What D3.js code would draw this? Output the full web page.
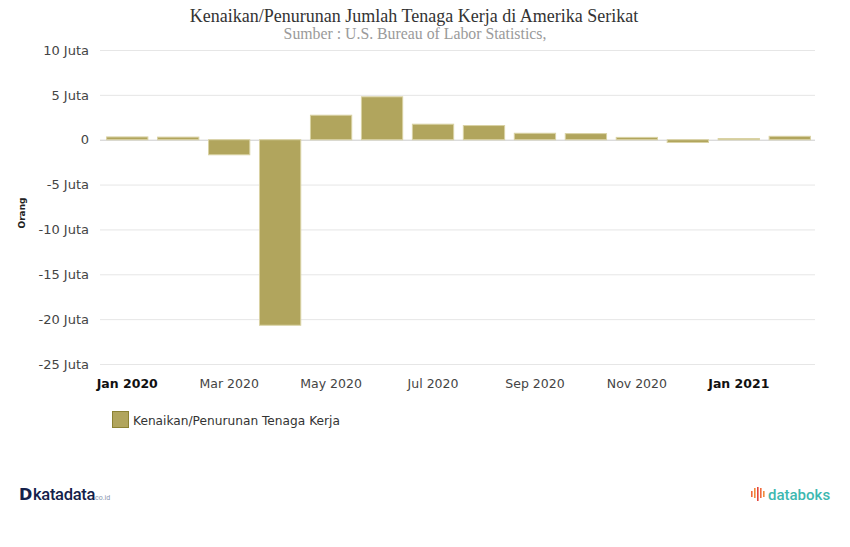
<!DOCTYPE html>
<html><head><meta charset="utf-8">
<script src="https://cdn.jsdelivr.net/npm/d3@7"></script>
<style>
body{margin:0;background:#fff;}
svg{display:block;}
</style></head>
<body><svg id="chart" width="850" height="547"></svg>
<script>
const months = ["Jan 2020","Feb 2020","Mar 2020","Apr 2020","May 2020","Jun 2020","Jul 2020","Aug 2020","Sep 2020","Oct 2020","Nov 2020","Dec 2020","Jan 2021","Feb 2021"];
const values = [0.31,0.29,-1.68,-20.68,2.73,4.78,1.73,1.58,0.72,0.68,0.26,-0.31,0.13,0.38]; // juta orang
const yTicks = [10,5,0,-5,-10,-15,-20,-25];
const xLabelIdx = [0,2,4,6,8,10,12];
const boldLabels = ["Jan 2020","Jan 2021"];
const title = "Kenaikan/Penurunan Jumlah Tenaga Kerja di Amerika Serikat";
const subtitle = "Sumber : U.S. Bureau of Labor Statistics,";
const seriesName = "Kenaikan/Penurunan Tenaga Kerja";

(function(){
const svg = d3.select("#chart");
const pL = 102, pR = 815, pT = 50, pB = 364;
const x = d3.scaleBand().domain(months).range([pL, pR]).paddingInner(0.19).paddingOuter(0.09);
const y = d3.scaleLinear().domain([-25, 10]).range([pB, pT]);
const fmt = v => v === 0 ? "0" : v + " Juta";

// title
svg.append("text").attr("x", 414).attr("y", 22).attr("text-anchor","middle")
  .attr("font-family","'Liberation Serif', 'Times New Roman', serif").attr("font-size",18).attr("fill","#333").text(title);
svg.append("text").attr("x", 415).attr("y", 39).attr("text-anchor","middle")
  .attr("font-family","'Liberation Serif', 'Times New Roman', serif").attr("font-size",15.8).attr("fill","#9a9a9a").text(subtitle);

// grid + y axis
const yAxis = d3.axisLeft(y).tickValues(yTicks).tickFormat(fmt).tickSize(-(pR - pL + 2)).tickPadding(11);
const gy = svg.append("g").attr("transform", `translate(${pL-2},0)`).call(yAxis);
gy.select(".domain").remove();
gy.selectAll(".tick line").attr("stroke", d => d === 0 ? "#cccccc" : "#e6e6e6").attr("stroke-width", 1);
gy.selectAll(".tick text").attr("font-family","'DejaVu Sans', Verdana, sans-serif").attr("font-size",13).attr("fill","#444");

svg.append("text").attr("transform","translate(25,213) rotate(-90)").attr("text-anchor","middle")
  .attr("font-family","'DejaVu Sans', Verdana, sans-serif").attr("font-size",9).attr("font-weight","bold").attr("fill","#222").text("Orang");

// bars
svg.append("g").selectAll("rect").data(values).join("rect")
  .attr("x", (d,i) => x(months[i]))
  .attr("width", x.bandwidth())
  .attr("y", d => y(Math.max(0, d)))
  .attr("height", d => Math.abs(y(d) - y(0)))
  .attr("fill", "#b1a55d")
  .attr("stroke", "#d9d2a4").attr("stroke-width", 1);

// x axis labels
const xAxis = d3.axisBottom(x).tickValues(xLabelIdx.map(i => months[i])).tickSize(0).tickPadding(15);
const gx = svg.append("g").attr("transform", `translate(0,${pB})`).call(xAxis);
gx.select(".domain").remove();
gx.selectAll(".tick text").attr("font-family","'DejaVu Sans', Verdana, sans-serif").attr("font-size",12.5)
  .attr("fill", d => boldLabels.includes(d) ? "#111" : "#444")
  .attr("font-weight", d => boldLabels.includes(d) ? "bold" : "normal");

// legend
svg.append("rect").attr("x",112.5).attr("y",411.5).attr("width",16).attr("height",16)
  .attr("fill","#b1a55d").attr("stroke","#8c8234").attr("stroke-width",1);
svg.append("text").attr("x",133).attr("y",424.5).attr("font-family","'DejaVu Sans', Verdana, sans-serif")
  .attr("font-size",12.2).attr("fill","#333").text(seriesName);

// footer logos
const kg = svg.append("g");
kg.append("text").attr("x",19).attr("y",500).attr("font-family","'DejaVu Sans', sans-serif").attr("font-weight","bold")
  .attr("font-size",16).attr("fill","#14214a").text("D");
kg.append("text").attr("x",33).attr("y",499.5).attr("font-family","'Roboto', sans-serif").attr("font-weight","500")
  .attr("font-size",16.5).attr("fill","#14214a").attr("letter-spacing",-0.3).text("katadata");
kg.append("text").attr("x",95).attr("y",499.5).attr("font-family","'Roboto', sans-serif")
  .attr("font-size",7).attr("fill","#8a96b0").text("co.id");

const dg = svg.append("g");
const barsH = [6,10,14,10,6];
const barC = ["#f06a3c","#f28a3c","#e4473c","#f06a3c","#f28a3c"];
barsH.forEach((h,i)=>{
  dg.append("rect").attr("x",751+i*3).attr("y",494-h/2 - (i%2?1:0)).attr("width",1.6).attr("height",h).attr("fill",barC[i]);
});
dg.append("text").attr("x",768).attr("y",499.5).attr("font-family","'Roboto', sans-serif").attr("font-weight","500")
  .attr("font-size",15).attr("fill","#3cb8b0").text("databoks");
})();
</script>
</body></html>
